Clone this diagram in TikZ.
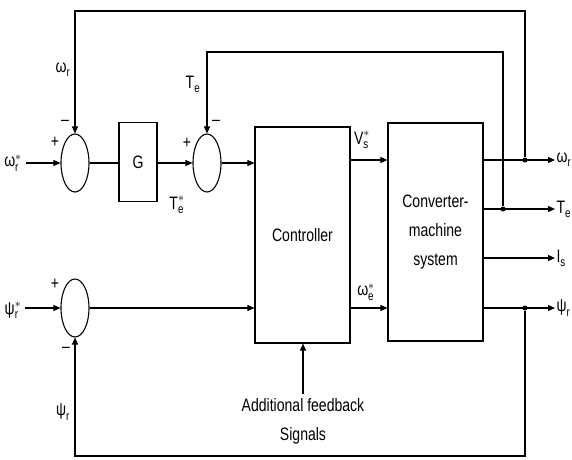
\documentclass[tikz,border=0pt]{standalone}
\usepackage{amsmath}
\usepackage{fontspec}
\setmainfont{Liberation Sans}[FakeStretch=0.78]
\usetikzlibrary{positioning, arrows.meta, shapes.geometric}

\newcommand{\sgl}[3]{$\text{#1}_{\text{#2}}^{#3}$}

\begin{document}
\begin{tikzpicture}[x=1pt, y=-1pt, line width=1.1pt,
    font=\fontsize{18}{21}\selectfont,
    sumj/.style={draw, ellipse, minimum width=28pt, minimum height=58pt, inner sep=0pt},
    blk/.style={draw, rectangle, inner sep=0pt, align=center},
    arr/.style={-{Triangle[length=7pt, width=6pt]}},
    pt/.style={circle, fill, inner sep=0pt, minimum size=5pt}]
  \useasboundingbox (0,0) rectangle (572,459);
  % summing junctions and blocks
  \node[sumj] (S1) at (75,163) {};
  \node[blk, minimum width=38pt, minimum height=79pt] (G) at (138,162) {G};
  \node[sumj] (S2) at (207,163) {};
  \node[blk, minimum width=95pt, minimum height=216pt] (C) at (302.5,235) {Controller};
  \node[blk, minimum width=95pt, minimum height=218pt] (M) at (435.5,232)
    {Converter-\\[8pt]machine\\[8pt]system};
  \node[sumj] (S3) at (75,308) {};
  % inputs
  \node (wref) at (13,163) {\sgl{ω}{r}{*}};
  \node (pref) at (13,310) {\sgl{ψ}{r}{*}};
  \draw[arr] (wref.east |- S1) -- (S1.west);
  \draw[arr] (pref.east |- S3) -- (S3.west);
  % forward path
  \draw (S1.east) -- (G.west |- S1);
  \draw[arr] (G.east |- S2) -- (S2.west);
  \draw[arr] (S2.east) -- (C.west |- S2);
  \draw[arr] (S3.east) -- (C.west |- S3);
  \draw[arr] (C.east |- 0,160) -- (M.west |- 0,160);
  \draw[arr] (C.east |- 0,308) -- (M.west |- 0,308);
  % outputs
  \node[right, inner sep=1pt] (wout) at (555,160) {\sgl{ω}{r}{}};
  \node[right, inner sep=1pt] (tout) at (555,209) {\sgl{T}{e}{}};
  \node[right, inner sep=1pt] (iout) at (555,258) {\sgl{I}{s}{}};
  \node[right, inner sep=1pt] (pout) at (555,308) {\sgl{ψ}{r}{}};
  \foreach \o in {wout, tout, iout, pout}
    \draw[arr] (M.east |- \o) -- (\o.west);
  \node[pt] (d1) at (525,160) {};
  \node[pt] (d2) at (503,209) {};
  \node[pt] (d3) at (525,308) {};
  % feedback loops
  \draw[arr] (d1) -- (d1 |- 0,11) -| (S1.north);
  \draw[arr] (d2) -- (d2 |- 0,52) -| (S2.north);
  \draw[arr] (d3) -- (d3 |- 0,456) -| (S3.south);
  % additional feedback
  \node[align=center, font=\fontsize{18}{29}\selectfont] (fb) at (303,421)
    {Additional feedback\\Signals};
  \draw[arr] (fb.north) -- (fb.north |- C.south);
  % signal labels
  \node at (63,70) {\sgl{ω}{r}{}};
  \node at (193,84) {\sgl{T}{e}{}};
  \node at (177,205) {\sgl{T}{e}{*}};
  \node at (362,140) {\sgl{V}{s}{*}};
  \node at (366,292) {\sgl{ω}{e}{*}};
  \node at (63,412) {\sgl{ψ}{r}{}};
  % signs
  \node at (55,142) {+};
  \node at (65,123) {--};
  \node at (187,143) {+};
  \node at (216,123) {--};
  \node at (55,284) {+};
  \node at (66,350) {--};
\end{tikzpicture}
\end{document}
